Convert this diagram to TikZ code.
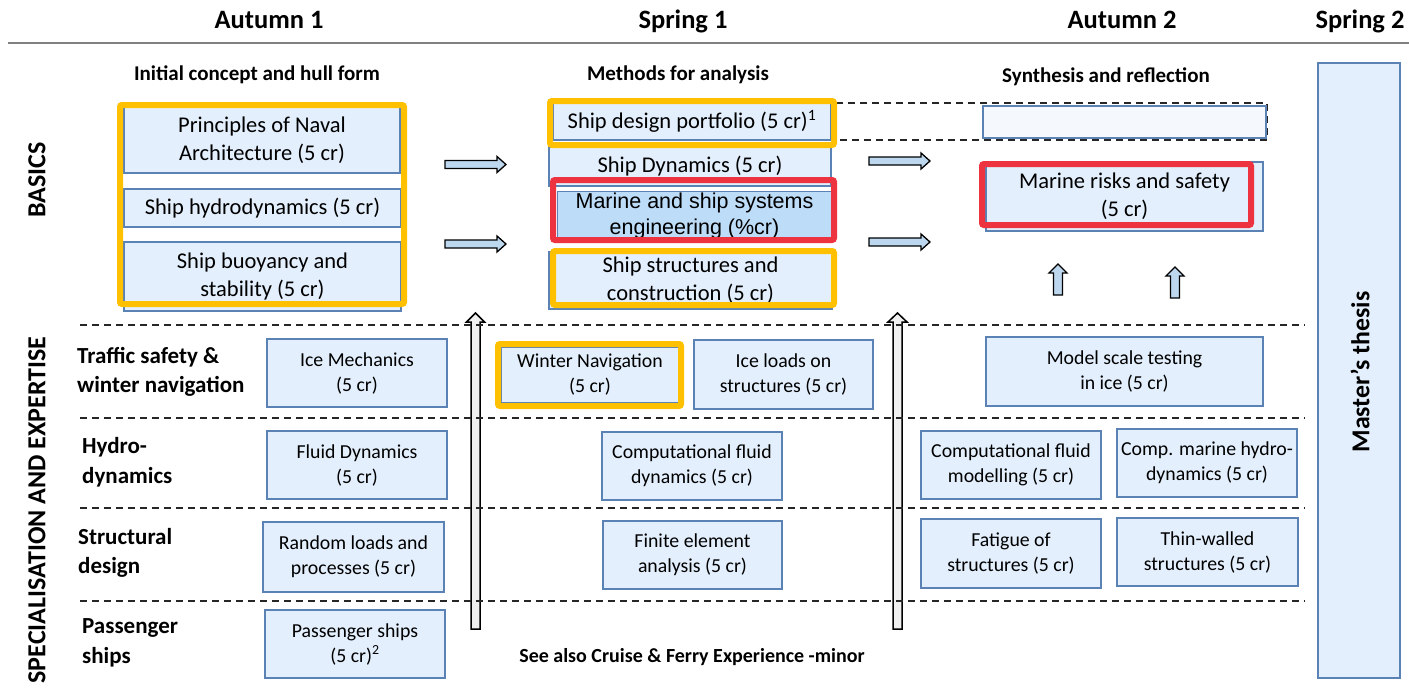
\documentclass[tikz,border=0pt]{standalone}
\usepackage{fontspec}
\setmainfont{Carlito}
\newfontfamily\arialfont{Liberation Sans}
\definecolor{boxfill}{HTML}{E3EFFC}
\definecolor{boxline}{HTML}{5A82B4}
\definecolor{darkfill}{HTML}{BDDCF8}
\definecolor{phfill}{HTML}{F5F9FE}
\definecolor{frameorange}{HTML}{FFC000}
\definecolor{framered}{HTML}{EE3340}
\definecolor{arrfill}{HTML}{BDD7EE}
\definecolor{bigarrfill}{HTML}{F0F0F0}
\definecolor{hdrline}{HTML}{808080}
\newcommand\RArr[4]{\draw[#4] (#1,#3-4) -- (#2-9,#3-4) -- (#2-9,#3-8) -- (#2,#3) -- (#2-9,#3+8) -- (#2-9,#3+4) -- (#1,#3+4) -- cycle;}
\newcommand\UArr[6]{\draw[#6] (#1-#4,#3) -- (#1-#4,#2+9) -- (#1-#5,#2+9) -- (#1,#2) -- (#1+#5,#2+9) -- (#1+#4,#2+9) -- (#1+#4,#3) -- cycle;}
\begin{document}
\begin{tikzpicture}[x=1pt,y=-1pt,
  span/.style n args={4}{minimum width={#3-#1}, minimum height={#4-#2}, at={({(#1+#3)/2},{(#2+#4)/2})}},
  box/.style={draw=boxline, fill=boxfill, line width=1.4pt, inner sep=0pt, align=center, font=\fontsize{19.8}{25}\selectfont},
  bbox/.style={box, font=\fontsize{22.5}{28}\selectfont},
  oframe/.style={draw=frameorange, line width=6pt, rounded corners=2pt, inner sep=0pt},
  rframe/.style={draw=framered, line width=6pt, rounded corners=2pt, inner sep=0pt},
  hdr/.style={font=\bfseries\fontsize{26.5}{30}\selectfont, anchor=base},
  subhdr/.style={font=\bfseries\fontsize{21}{24}\selectfont, anchor=base},
  rowlbl/.style={font=\bfseries\fontsize{23}{29.5}\selectfont, anchor=west, align=left, inner sep=0pt},
  sidelbl/.style={font=\bfseries\fontsize{26}{30}\selectfont, rotate=90, inner sep=0pt},
  sep/.style={draw=black!85, line width=1.3pt, dash pattern=on 7pt off 5pt},
  blockarr/.style={draw=black, line width=1.3pt, fill=arrfill, line join=miter},
  bigarr/.style={draw=black, line width=1.5pt, fill=bigarrfill, line join=miter}
]
\useasboundingbox (0,0) rectangle (1409,691);

% headers
\node[hdr] (h1) at (269,28) {Autumn 1};
\node[hdr] (h2) at (683,28) {Spring 1};
\node[hdr] (h3) at (1122,28) {Autumn 2};
\node[hdr] (h4) at (1360,28) {Spring 2};
\draw[hdrline, line width=2pt] (8,43) -- (1409,43);

\node[subhdr] (s1) at (257,80) {Initial concept and hull form};
\node[subhdr] (s2) at (678,80) {Methods for analysis};
\node[subhdr] (s3) at (1106,82) {Synthesis and reflection};

\node[sidelbl] (basics) at (37,180) {BASICS};
\node[sidelbl] (spec) at (37,510) {SPECIALISATION AND EXPERTISE};

\node[rowlbl] (r1) at (77,372) {Traffic safety \&\\winter navigation};
\node[rowlbl] (r2) at (82,462) {Hydro-\\dynamics};
\node[rowlbl] (r3) at (78,553) {Structural\\design};
\node[rowlbl] (r4) at (82,643) {Passenger\\ships};

% big vertical arrows
\UArr{475.5}{313}{629}{4.5}{9}{bigarr}
\UArr{897.5}{313}{629}{4.5}{9.5}{bigarr}

% separators
\foreach \yy in {325,418,508,601} \draw[sep] (80,\yy) -- (1305,\yy);

% placeholder for portfolio continuation
\draw[sep, line width=1.1pt] (553,103) rectangle (1267,140);
\node[box, fill=phfill, line width=1.1pt, span={983}{106}{1266}{138}] (ph) {};

% master's thesis
\node[box, span={1318}{63}{1400}{678}] (mt) {};
\node[sidelbl, font=\bfseries\fontsize{25.8}{30}\selectfont] (mtl) at (1360,372) {Master’s thesis};

% Autumn 1 basics
\node[bbox, span={124}{107}{400}{173}] (pna) {Principles of Naval\\Architecture (5 cr)};
\node[bbox, span={124}{189}{401}{227}] (shd) {Ship hydrodynamics (5 cr)};
\node[bbox, span={124}{242}{401}{311}] (sbs) {Ship buoyancy and\\stability (5 cr)};
\node[oframe, span={120}{105}{404}{304}] (f1) {};

% Spring 1 basics
\node[bbox, span={553}{103}{831}{140}] (sdp) {Ship design portfolio (5 cr)\textsuperscript{1}};
\node[bbox, span={549}{147}{831}{186}] (sdy) {Ship Dynamics (5 cr)};
\node[bbox, fill=darkfill, line width=0.8pt, font=\arialfont\fontsize{21.5}{26}\selectfont, span={557}{191}{832}{240}] (mse) {Marine and ship systems\\engineering (\%cr)};
\node[bbox, span={549}{252}{832}{309}] (sst) {Ship structures and\\construction (5 cr)};
\node[oframe, span={550}{101}{834}{145}] (fsdp) {};
\node[rframe, span={553}{180}{834}{240}] (fmse) {};
\node[oframe, span={553}{251}{834}{305}] (fsst) {};

% Autumn 2 basics
\node[bbox, span={986}{162}{1263}{231}] (mrs) {Marine risks and safety\\(5 cr)};
\node[rframe, span={982}{164}{1251}{225}] (fmrs) {};

% horizontal arrows
\RArr{445}{506}{164.5}{blockarr}
\RArr{445}{506}{244}{blockarr}
\RArr{869}{930}{161}{blockarr}
\RArr{869}{930}{242}{blockarr}
% small up arrows
\UArr{1058}{264}{295}{4.5}{9}{blockarr}
\UArr{1175}{267}{298}{4.5}{9}{blockarr}

% specialisation rows
\node[box, span={267}{339}{447}{407}] (ice) {Ice Mechanics\\(5 cr)};
\node[box, span={267}{431}{447}{499}] (fd) {Fluid Dynamics\\(5 cr)};
\node[box, span={263}{522}{444}{592}] (rl) {Random loads and\\processes (5 cr)};
\node[box, span={265}{610}{445}{678}] (ps) {Passenger ships\\(5 cr)\textsuperscript{2}};

\node[box, span={501}{347}{679}{403}] (wn) {Winter Navigation\\(5 cr)};
\node[oframe, span={498}{344}{681}{406}] (fwn) {};
\node[box, span={694}{340}{873}{409}] (il) {Ice loads on\\structures (5 cr)};
\node[box, span={602}{432}{782}{500}] (cfd) {Computational fluid\\dynamics (5 cr)};
\node[box, span={603}{521}{782}{589}] (fea) {Finite element\\analysis (5 cr)};

\node[box, span={986}{337}{1263}{406}] (mst) {Model scale testing\\in ice (5 cr)};
\node[box, span={921}{431}{1101}{499}] (cfm) {Computational fluid\\modelling (5 cr)};
\node[box, span={1117}{429}{1297}{497}] (cmh) {Comp. marine hydro-\\dynamics (5 cr)};
\node[box, span={921}{519}{1101}{588}] (fat) {Fatigue of\\structures (5 cr)};
\node[box, span={1117}{518}{1298}{586}] (tw) {Thin-walled\\structures (5 cr)};

\node[subhdr, font=\bfseries\fontsize{20}{24}\selectfont] (see) at (692,662) {See also Cruise \& Ferry Experience -minor};
\end{tikzpicture}
\end{document}
